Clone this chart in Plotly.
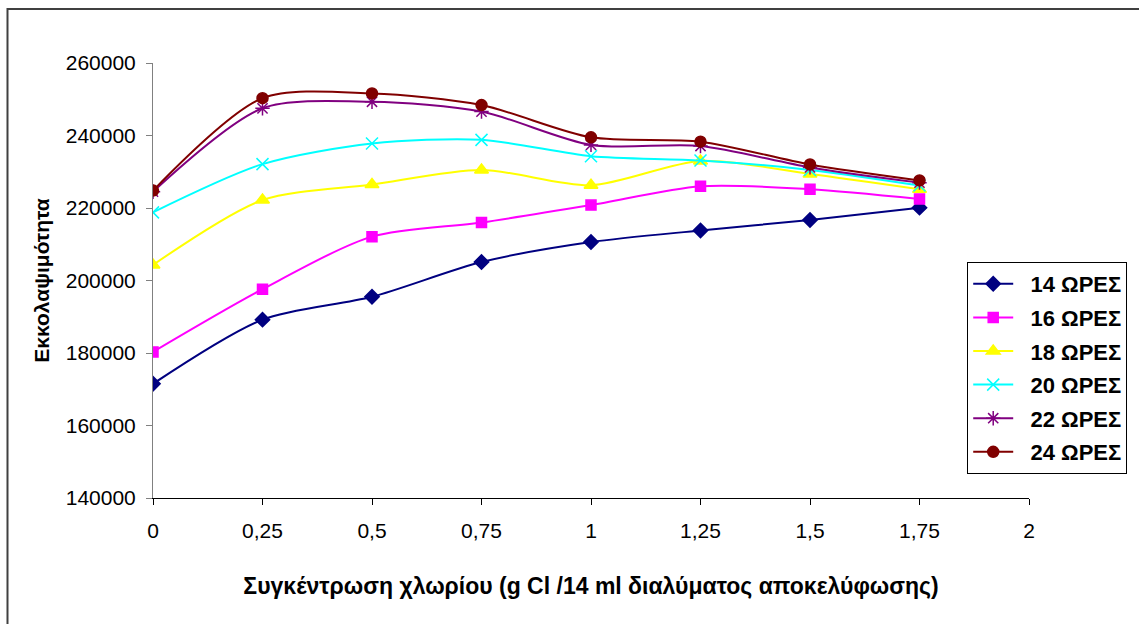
import plotly.graph_objects as go

x_vals = [0, 0.25, 0.5, 0.75, 1.0, 1.25, 1.5, 1.75]
x_tick_vals = [0, 0.25, 0.5, 0.75, 1.0, 1.25, 1.5, 1.75, 2.0]
x_tick_labels = ["0", "0,25", "0,5", "0,75", "1", "1,25", "1,5", "1,75", "2"]
y_tick_vals = [140000, 160000, 180000, 200000, 220000, 240000, 260000]

h14 = [171500, 189200, 195500, 205100, 210600, 213800, 216700, 220100]
h16 = [180300, 197600, 212100, 216000, 220800, 226000, 225200, 222500]
h18 = [204300, 222200, 226500, 230500, 226300, 233000, 229400, 225200]
h20 = [218800, 232100, 237800, 238800, 234300, 233100, 230500, 226200]
h22 = [224500, 247500, 249300, 246600, 237400, 237100, 231200, 227000]
h24 = [224800, 250300, 251600, 248400, 239500, 238300, 232000, 227600]

series_names = ["14 ΩΡΕΣ", "16 ΩΡΕΣ", "18 ΩΡΕΣ", "20 ΩΡΕΣ", "22 ΩΡΕΣ", "24 ΩΡΕΣ"]
series_values = [h14, h16, h18, h20, h22, h24]
styles = [
    ("#000080", "diamond", 11),
    ("#FF00FF", "square", 10),
    ("#FFFF00", "triangle-up", 12),
    ("#00FFFF", "x-thin-open", 12),
    ("#800080", "asterisk-open", 12),
    ("#800000", "circle", 11),
]

FONT = "Liberation Sans, Arial, sans-serif"

fig = go.Figure()
for i, (name, ys) in enumerate(zip(series_names, series_values)):
    col, sym, sz = styles[i]
    fig.add_trace(go.Scatter(
        x=x_vals, y=ys, name="\u00a0\u00a0" + name, mode="lines+markers",
        line=dict(color=col, width=2, shape="spline", smoothing=0.8),
        marker=dict(symbol=sym, size=sz, color=col, line=dict(color=col, width=1.5)),
        legendgroup=f"g{i}",
    ))

L, R, T, B = 153, 107, 63, 126
W, H = 1139, 624
pw, ph = W - L - R, H - T - B

def px_to_paper_x(px):
    return (px - L) / pw

def px_to_paper_y(py):
    return (H - B - py) / ph

fig.add_shape(type="rect", xref="paper", yref="paper",
              x0=px_to_paper_x(7), x1=px_to_paper_x(1150),
              y0=px_to_paper_y(640), y1=px_to_paper_y(9),
              line=dict(color="#404040", width=2), fillcolor="rgba(0,0,0,0)", layer="below")

fig.update_layout(
    width=W, height=H,
    margin=dict(l=L, r=R, t=T, b=B),
    paper_bgcolor="white", plot_bgcolor="white",
    font=dict(family=FONT, size=22, color="black"),
    showlegend=True,
    legend=dict(
        x=px_to_paper_x(970), y=px_to_paper_y(262), xanchor="left", yanchor="top",
        bordercolor="black", borderwidth=1, bgcolor="white",
        font=dict(family=FONT, size=22, color="black", weight="bold"),
        traceorder="grouped", tracegroupgap=2, itemwidth=40,
    ),
    xaxis=dict(
        range=[0, 2], tickvals=x_tick_vals, ticktext=x_tick_labels,
        showgrid=False, zeroline=False, showline=True, linecolor="black", linewidth=1,
        ticks="outside", ticklen=6, tickcolor="black",
        tickfont=dict(size=21), ticklabelstandoff=8,
        title=dict(text="<b>Συγκέντρωση χλωρίου (g Cl /14 ml διαλύματος αποκελύφωσης)</b>",
                   font=dict(size=23), standoff=36),
    ),
    yaxis=dict(
        range=[140000, 260000], tickvals=y_tick_vals, tickformat="d",
        showgrid=False, zeroline=False, showline=True, linecolor="#808080", linewidth=1,
        ticks="outside", ticklen=6, tickcolor="#808080",
        tickfont=dict(size=21), ticklabelstandoff=6,
        title=dict(text="<b>Εκκολαψιμότητα</b>", font=dict(size=21), standoff=10),
    ),
)

fig.write_html("out.html")
